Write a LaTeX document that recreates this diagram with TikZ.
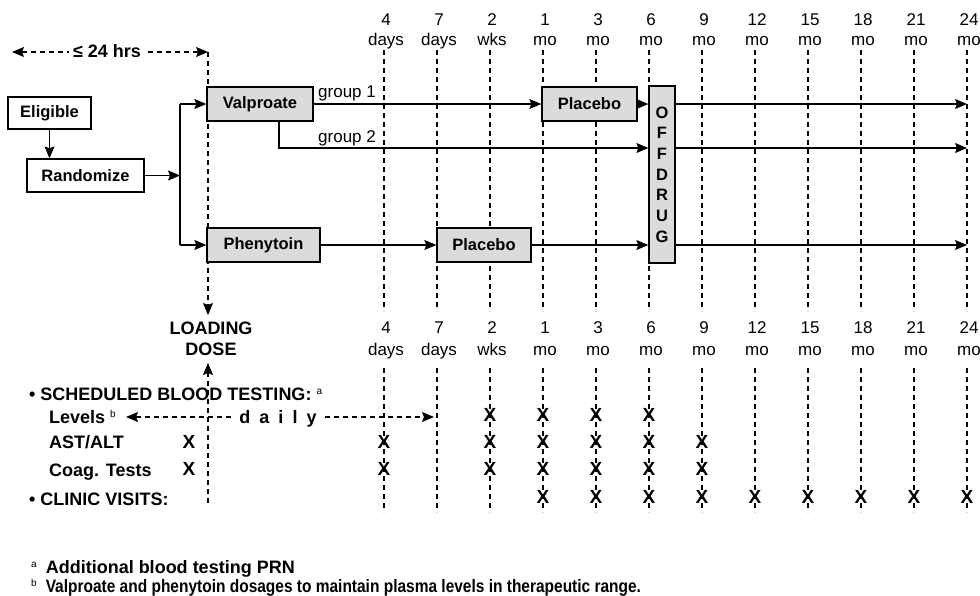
\documentclass[tikz,border=0pt]{standalone}
\usepackage{fontspec}
\setmainfont{Liberation Sans}
\usetikzlibrary{arrows.meta}
\newcommand\fnmk[1]{\raisebox{0.6ex}{\fontsize{10}{10}\selectfont\mdseries #1}}
\begin{document}
\begin{tikzpicture}[x=1pt,y=-1pt,
  lbl/.style={font=\fontsize{18}{20}\selectfont\bfseries, inner sep=0pt},
  hdr/.style={font=\fontsize{17}{20}\selectfont, inner sep=0pt, anchor=base},
  xmk/.style={font=\fontsize{19}{20}\selectfont\bfseries, inner sep=0pt, anchor=base},
  wbox/.style={draw, line width=1.3pt, fill=white, font=\fontsize{16.5}{20}\selectfont\bfseries, inner sep=0pt},
  gbox/.style={wbox, fill=gray!28},
  solidln/.style={line width=1.1pt},
  conn/.style={line width=1.1pt, -{Stealth[length=12pt,width=10pt,inset=2pt]}},
  tline/.style={line width=1.1pt, dash pattern=on 5pt off 4pt},
  tarr/.style={tline, -{Stealth[length=12pt,width=10pt,inset=2pt]}},
  tarr2/.style={tline, {Stealth[length=12pt,width=10pt,inset=2pt]}-{Stealth[length=12pt,width=10pt,inset=2pt]}},
]
\useasboundingbox (0,0) rectangle (980,595);

% time columns
\foreach \x/\n/\u [count=\i] in {384/4/days,437/7/days,490/2/wks,543/1/mo,596/3/mo,649/6/mo,702/9/mo,755/12/mo,808/15/mo,861/18/mo,914/21/mo,967/24/mo}{
  \draw[tline] (\x,50) -- (\x,311);
  \draw[tline] (\x,368) -- (\x,512);
  \node[hdr] (tn\i) at (\x+2,25) {\n};
  \node[hdr] (tu\i) at (\x+2,45) {\u};
  \node[hdr] (bn\i) at (\x+2,333) {\n};
  \node[hdr] (bu\i) at (\x+2,355) {\u};
}

% loading dose line and 24 hrs
\coordinate (hrsL) at (12,52);
\coordinate (ldtop) at (208,52);
\coordinate (ldbot) at (208,315);
\draw[tarr2] (hrsL) -- (ldtop);
\node[lbl, fill=white, inner xsep=4pt, anchor=base] (hrs) at (107,57) {≤ 24 hrs};
\draw[tarr] (ldtop) -- (ldbot);

% boxes
\node[wbox, minimum width=83pt, minimum height=32pt] (elig) at (49.5,113) {Eligible};
\node[wbox, minimum width=117pt, minimum height=33pt] (rand) at (85.5,175.5) {Randomize};
\node[gbox, minimum width=106pt, minimum height=34pt] (valp) at (260,104) {Valproate};
\node[gbox, minimum width=113pt, minimum height=34pt] (phen) at (263.5,245) {Phenytoin};
\node[gbox, minimum width=95pt, minimum height=34pt] (plac1) at (589.5,104) {Placebo};
\node[gbox, minimum width=94pt, minimum height=34pt] (plac2) at (484,245) {Placebo};
\node[gbox, minimum width=26pt, minimum height=177pt, align=center, font=\fontsize{16.5}{20.7}\selectfont\bfseries] (off) at (662,174.5) {O\\F\\F\\D\\R\\U\\G};

% connectors
\draw[conn] (elig.south) -- (elig.south |- rand.north);
\coordinate (split) at (180,175.5);
\coordinate (splitT) at (180,104);
\coordinate (splitB) at (180,245);
\draw[conn] (rand.east) -- (split);
\draw[solidln] (splitT) -- (splitB);
\draw[conn] (splitT) -- (valp.west);
\draw[conn] (splitB) -- (phen.west);
\draw[conn] (valp.east) -- (plac1.west);
\node[hdr, anchor=base west] (g1) at (318,97) {group 1};
\draw[conn] (plac1.east) -- (plac1.east -| off.west);
\coordinate (g2) at (279,148);
\draw[conn] (valp.south -| g2) -- (g2) -- (g2 -| off.west);
\node[hdr, anchor=base west] (g2l) at (318,142) {group 2};
\draw[conn] (phen.east) -- (plac2.west);
\draw[conn] (plac2.east) -- (plac2.east -| off.west);
\coordinate (e1) at (967,104);
\coordinate (e2) at (967,148);
\coordinate (e3) at (967,245);
\draw[conn] (off.east |- e1) -- (e1);
\draw[conn] (off.east |- e2) -- (e2);
\draw[conn] (off.east |- e3) -- (e3);

% loading dose label
\node[lbl, anchor=base] (ld1) at (211,334) {LOADING};
\node[lbl, anchor=base] (ld2) at (211,355) {DOSE};
\coordinate (lbtop) at (208,363);
\coordinate (lbbot) at (208,503);
\draw[tarr] (lbbot) -- (lbtop);

% schedule
\node[lbl, anchor=base west] (sched) at (29,400) {\textbullet\ SCHEDULED BLOOD TESTING: \fnmk{a}};
\node[lbl, anchor=base west] (lev) at (49,423) {Levels \fnmk{b}};
\node[lbl, anchor=base west] (ast) at (49,448) {AST/ALT};
\node[lbl, anchor=base west] (coag) at (49,476) {Coag. Tests};
\node[lbl, anchor=base west] (clin) at (29,505) {\textbullet\ CLINIC VISITS:};
\coordinate (dL) at (126,417);
\coordinate (dR) at (434,417);
\draw[tarr2] (dL) -- (dR);
\node[lbl, anchor=base, fill=white, inner xsep=6pt] (daily) at (278,423) {d\hspace{9pt}a\hspace{9pt}i\hspace{9pt}l\hspace{9pt}y};

% X marks
\foreach \x [count=\i] in {490,543,596,649}{ \node[xmk] (xl\i) at (\x,421) {X}; }
\foreach \x [count=\i] in {189,384,490,543,596,649,702}{ \node[xmk] (xa\i) at (\x,448) {X}; }
\foreach \x [count=\i] in {189,384,490,543,596,649,702}{ \node[xmk] (xc\i) at (\x,475) {X}; }
\foreach \x [count=\i] in {543,596,649,702,755,808,861,914,967}{ \node[xmk] (xv\i) at (\x,503) {X}; }

% footnotes
\node[lbl, anchor=base west] (fa) at (31,573) {\fnmk{a}\hspace{9pt}Additional blood testing PRN};
\node[lbl, anchor=base west] (fb) at (31,592) {\fnmk{b}\hspace{9pt}\scalebox{0.86}[1]{Valproate and phenytoin dosages to maintain plasma levels in therapeutic range.}};
\end{tikzpicture}
\end{document}
